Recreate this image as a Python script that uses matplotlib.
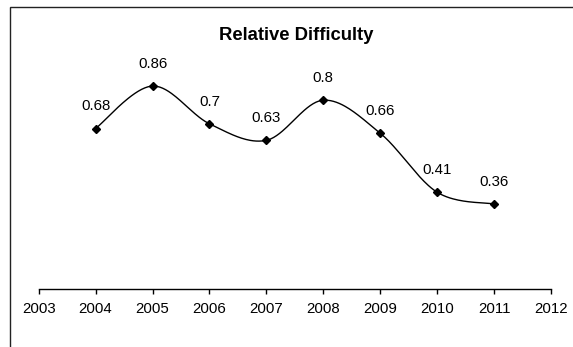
import matplotlib.pyplot as plt
import numpy as np
from matplotlib.patches import Rectangle

plt.rcParams['font.family'] = ['Liberation Sans', 'DejaVu Sans']

years = [2004, 2005, 2006, 2007, 2008, 2009, 2010, 2011]
values = [0.68, 0.86, 0.7, 0.63, 0.8, 0.66, 0.41, 0.36]
xticks = list(range(2003, 2013))

fig = plt.figure(figsize=(5.73, 3.47), dpi=100)
ax = fig.add_axes([38.7 / 573, 1 - 289 / 347, (551 - 38.7) / 573, 236 / 347])

# excel-ish smoothing: cubic bezier with control points at 1/6 of the neighbour difference
x = np.array(years, dtype=float)
y = np.array(values, dtype=float)
px = np.concatenate([[x[0]], x, [x[-1]]])
py = np.concatenate([[y[0]], y, [y[-1]]])
cx, cy = [], []
t = np.linspace(0, 1, 40)
for i in range(1, len(px) - 2):
    p0 = np.array([px[i], py[i]])
    p3 = np.array([px[i + 1], py[i + 1]])
    p1 = p0 + (np.array([px[i + 1], py[i + 1]]) - np.array([px[i - 1], py[i - 1]])) / 6
    p2 = p3 - (np.array([px[i + 2], py[i + 2]]) - np.array([px[i], py[i]])) / 6
    b = ((1 - t) ** 3)[:, None] * p0 + (3 * (1 - t) ** 2 * t)[:, None] * p1 \
        + (3 * (1 - t) * t ** 2)[:, None] * p2 + (t ** 3)[:, None] * p3
    cx.extend(b[:, 0])
    cy.extend(b[:, 1])

ax.plot(cx, cy, color='black', lw=1.0)
ax.plot(years, values, ls='none', marker='D', ms=4.5, color='black')

for xx, yy in zip(years, values):
    ax.annotate(f'{yy:g}', (xx, yy), xytext=(0, 16), textcoords='offset points',
                ha='center', va='center', fontsize=10.8)

ax.set_xlim(2003, 2012)
ax.set_ylim(0, 1)
ax.set_xticks(xticks)
ax.set_xticklabels([str(v) for v in xticks], fontsize=10.8)
ax.set_yticks([])
for s in ['top', 'right', 'left']:
    ax.spines[s].set_visible(False)
ax.spines['bottom'].set_linewidth(1.0)
ax.tick_params(axis='x', direction='out', length=3.6, width=1.0, pad=6)
ax.patch.set_visible(False)

fig.text(296 / 573, 1 - 35 / 347, 'Relative Difficulty', ha='center', va='center',
         fontsize=13.3, fontweight='bold')

fig.patches.append(Rectangle((10 / 573, -0.1), 1.2, 1 - 7 / 347 + 0.1, transform=fig.transFigure,
                             fill=False, edgecolor='#222222', lw=1.0))

fig.savefig('out.png', dpi=100)
